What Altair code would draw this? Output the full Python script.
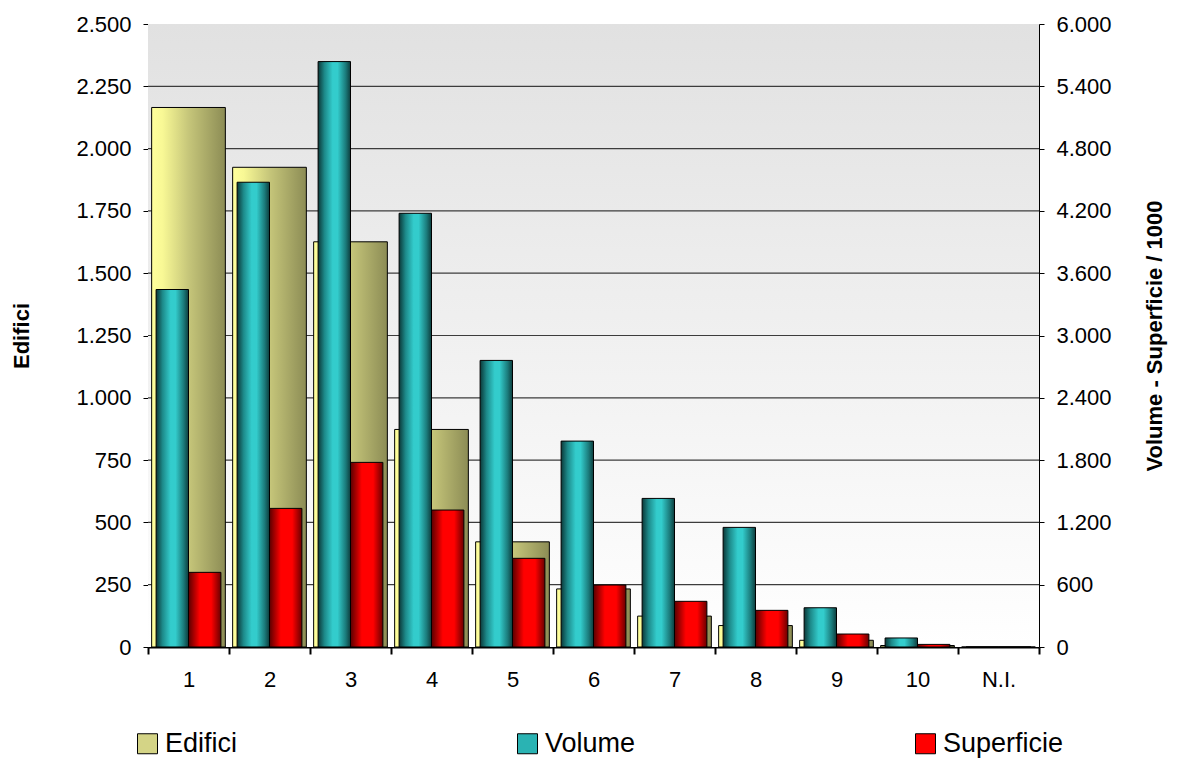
import altair as alt
import pandas as pd

categorie = ["1", "2", "3", "4", "5", "6", "7", "8", "9", "10", "N.I."]
edifici = [2165, 1925, 1626, 873, 422, 233, 124, 86, 27, 6, 0]
volume = [3443, 4476, 5638, 4177, 2760, 1983, 1431, 1152, 378, 87, 0]
superficie = [719, 1335, 1778, 1319, 854, 597, 440, 353, 125, 25, 0]
serie = ["Edifici", "Volume", "Superficie"]
colori_legenda = ["#d4d486", "#2ab3b3", "#ff0000"]
tick_sx = list(range(0, 2501, 250))
tick_dx = list(range(0, 6001, 600))

W, H = 891, 623
FONT = "Liberation Sans"

df_ed = pd.DataFrame({"cat": categorie, "val": edifici})
df_vol = pd.DataFrame({"cat": categorie, "val": volume, "s": ["Volume"] * len(categorie)})
df_sup = pd.DataFrame({"cat": categorie, "val": superficie, "s": ["Superficie"] * len(categorie)})
df_grid = pd.DataFrame({"val": tick_sx[1:-1]})
df_leg = pd.DataFrame({"cat": ["1"] * 3, "val": [0, 0, 0], "serie": serie})
df_bg = pd.DataFrame({"k": [0]})

xscale = alt.Scale(domain=categorie, paddingInner=0, paddingOuter=0)
xaxis = alt.Axis(
    title=None, labelAngle=0, tickBand="extent", labelFontSize=22, labelFont=FONT,
    labelColor="black", domainColor="black", domainWidth=2, tickColor="black",
    tickWidth=2, tickSize=7, labelPadding=15,
)
X = alt.X("cat:N", scale=xscale, axis=xaxis)

lab_expr = "replace(format(datum.value, ','), ',', '.')"
yl_scale = alt.Scale(domain=[0, 2500], nice=False)
yl_axis = alt.Axis(
    title="Edifici", values=tick_sx, labelExpr=lab_expr,
    labelFontSize=22, labelFont=FONT, labelColor="black", titleFont=FONT,
    titleFontSize=22, titleFontWeight="bold", titleColor="black", titlePadding=42,
    domainColor="black", tickColor="black", tickSize=5, labelPadding=12, grid=False,
)
yr_scale = alt.Scale(domain=[0, 6000], nice=False)
yr_axis = alt.Axis(
    title="Volume - Superficie / 1000", orient="right", values=tick_dx, labelExpr=lab_expr,
    labelFontSize=22, labelFont=FONT, labelColor="black", titleFont=FONT,
    titleFontSize=22, titleFontWeight="bold", titleColor="black", titleAngle=270,
    titlePadding=55, domainColor="black", tickColor="black", tickSize=5,
    labelPadding=12, grid=False,
)
YL = alt.Y("val:Q", scale=yl_scale, axis=yl_axis)

def grad(stops):
    return alt.Gradient(
        gradient="linear",
        stops=[alt.GradientStop(color=c, offset=o) for o, c in stops],
        x1=0, x2=1, y1=0, y2=0,
    )

bg = alt.Chart(df_bg).mark_rect(
    fill=alt.Gradient(
        gradient="linear",
        stops=[alt.GradientStop(color="#e1e1e1", offset=0), alt.GradientStop(color="#ffffff", offset=1)],
        x1=0, x2=0, y1=0, y2=1,
    )
).encode(x=alt.value(0), x2=alt.value(W), y=alt.value(0), y2=alt.value(H))

grid = alt.Chart(df_grid).mark_rule(color="#3c3c3c", strokeWidth=1.2).encode(y=YL)

bar_ed = alt.Chart(df_ed).mark_bar(
    width=alt.RelativeBandSize(0.91),
    fill=grad([(0, "#ffff9c"), (0.15, "#f8f895"), (0.5, "#c6c67a"), (1, "#8c8c55")]),
    stroke="black", strokeWidth=1,
).encode(x=X, y=YL)

legend_layer = alt.Chart(df_leg).mark_bar().encode(
    x=X,
    y=YL,
    color=alt.Color(
        "serie:N",
        scale=alt.Scale(domain=serie, range=colori_legenda),
        legend=alt.Legend(
            title=None, orient="none", legendX=-14, legendY=706, direction="horizontal",
            columns=3, columnPadding=276, symbolType="square", symbolSize=400,
            symbolStrokeColor="black", symbolStrokeWidth=1, symbolOpacity=1,
            labelFont=FONT, labelFontSize=27, labelColor="black", labelOffset=4,
        ),
    ),
)

xoff = alt.XOffset("s:N", scale=alt.Scale(domain=["Volume", "Superficie"], paddingInner=0, paddingOuter=0.25))

bar_vol = alt.Chart(df_vol).mark_bar(
    fill=grad([(0, "#0b3838"), (0.2, "#1d8a8a"), (0.45, "#33cccc"), (0.6, "#33cccc"), (0.85, "#1b7b7b"), (1, "#0d3d3d")]),
    stroke="black", strokeWidth=1,
).encode(x=X, xOffset=xoff, y=alt.Y("val:Q", scale=yr_scale, axis=yr_axis))

bar_sup = alt.Chart(df_sup).mark_bar(
    fill=grad([(0, "#5a0000"), (0.35, "#ff0000"), (0.7, "#ff0000"), (1, "#6a0000")]),
    stroke="black", strokeWidth=1,
).encode(x=X, xOffset=xoff, y=alt.Y("val:Q", scale=yr_scale, axis=yr_axis))

left = alt.layer(bg, grid, bar_ed, legend_layer)
right = alt.layer(bar_vol, bar_sup)

chart = alt.layer(left, right).resolve_scale(y="independent").properties(
    width=W, height=H,
    autosize=alt.AutoSizeParams(type="none"),
    padding={"left": 140, "top": 16, "right": 130, "bottom": 112},
).configure_view(stroke="black", strokeWidth=1).configure(background="white")

chart.save("out.html", embed_options={"renderer": "svg", "actions": False})
